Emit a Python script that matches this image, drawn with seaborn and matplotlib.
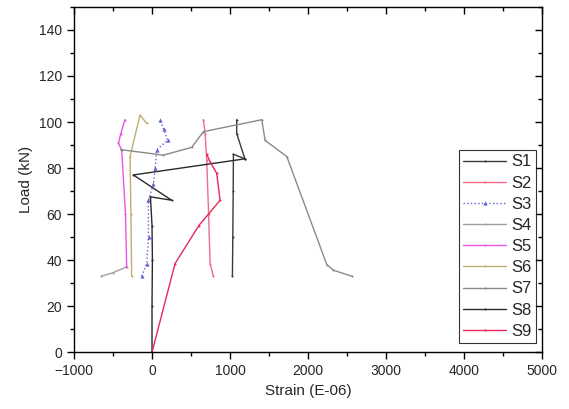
import pandas as pd
import seaborn as sns
from matplotlib import pyplot as plt
from matplotlib.ticker import MultipleLocator

# strain (E-06) / load (kN) per gauge
s1_strain = [1030, 1035, 1040, 1043, 1190, 1085, 1085]
s1_load = [33, 50, 70, 86, 84, 95, 101]
s2_strain = [786, 744, 725, 701, 680, 658]
s2_load = [33, 38.5, 60, 83.5, 95, 101]
s3_strain = [-132, -68, -45, -47, 17, 40, 60, 200, 150, 103]
s3_load = [33, 38.5, 50, 66, 73, 80, 88, 92, 97, 101]
s4_strain = [-650, -500, -330]
s4_load = [33, 34.5, 37]
s5_strain = [-325, -340, -389, -431, -400, -346]
s5_load = [37, 60, 88, 90.7, 95, 101]
s6_strain = [-261, -270, -282, -154, -68]
s6_load = [33, 60, 85, 103, 99.4]
s7_strain = [2560, 2325, 2240, 1727, 1449, 1406, 658, 509, 145, -400]
s7_load = [33, 35.6, 38, 85, 92, 101, 95.8, 89, 85.6, 88]
s8_strain = [0, 0, 5, 0, -20, 252, -239, 1190]
s8_load = [0, 20, 40, 55, 67.5, 66, 77, 84]
s9_strain = [0, 295, 600, 872, 829, 744, 701]
s9_load = [0, 38.5, 55, 66, 77.7, 82.7, 86]

labels = ["S1", "S2", "S3", "S4", "S5", "S6", "S7", "S8", "S9"]
strains = [s1_strain, s2_strain, s3_strain, s4_strain, s5_strain,
           s6_strain, s7_strain, s8_strain, s9_strain]
loads = [s1_load, s2_load, s3_load, s4_load, s5_load,
         s6_load, s7_load, s8_load, s9_load]

colors = ["#3a3a3a", "#f06a8a", "#6060d8", "#a0a0a0", "#e855e8",
          "#bdb070", "#8a8a8a", "#2a2a2a", "#e8285a"]
markers = [".", ".", "^", ".", ".", ".", ".", ".", "."]
styles = ["-", "-", ":", "-", "-", "-", "-", "-", "-"]

sns.set_style("white")
plt.rcParams['font.family'] = ['Liberation Sans', 'DejaVu Sans']

fig, ax = plt.subplots(figsize=(5.69, 4.09), dpi=100)

for lab, xs, ys, c, m, ls in zip(labels, strains, loads, colors, markers, styles):
    df = pd.DataFrame({"Strain": xs, "Load": ys})
    sns.lineplot(data=df, x="Strain", y="Load", sort=False, estimator=None,
                 color=c, marker=m, markersize=3, linestyle=ls, linewidth=1.0,
                 markeredgewidth=0, label=lab, ax=ax)

ax.set_xlim(-1000, 5000)
ax.xaxis.set_major_locator(MultipleLocator(1000))
ax.xaxis.set_minor_locator(MultipleLocator(500))
ax.yaxis.set_minor_locator(MultipleLocator(10))
ax.set_yticks(range(0, 141, 20))
ax.set_ylim(0, 150)

for sp in ax.spines.values():
    sp.set_color("black")
    sp.set_linewidth(1.0)

ax.tick_params(which="both", bottom=True, left=True, top=True, right=True,
               labelsize=10, color="black", direction="out")
ax.tick_params(which="major", length=5, width=1)
ax.tick_params(which="minor", length=3, width=1)
# top/right ticks point inward
for t in ax.xaxis.get_major_ticks() + ax.xaxis.get_minor_ticks():
    t.tick2line.set_marker(3)
for t in ax.yaxis.get_major_ticks() + ax.yaxis.get_minor_ticks():
    t.tick2line.set_marker(0)

ax.set_xlabel("Strain (E-06)", fontsize=11)
ax.set_ylabel("Load (kN)", fontsize=11)

leg = ax.legend(loc="upper left", bbox_to_anchor=(0.822, 0.585), fontsize=12,
                labelspacing=0.37, handlelength=2.6, handletextpad=0.3,
                borderpad=0.25, borderaxespad=0, frameon=True, fancybox=False)
leg.get_frame().set_edgecolor("black")
leg.get_frame().set_linewidth(0.8)

fig.subplots_adjust(left=0.13, right=0.953, bottom=0.139, top=0.983)
fig.savefig("out.png", dpi=100)
